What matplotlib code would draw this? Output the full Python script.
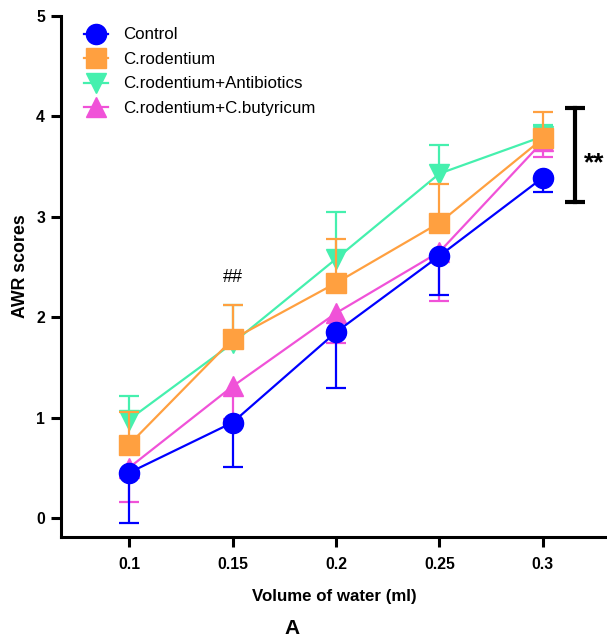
import numpy as np
import matplotlib
matplotlib.use("Agg")
import matplotlib.pyplot as plt
from matplotlib.lines import Line2D

plt.rcParams['font.family'] = ['Liberation Sans', 'DejaVu Sans']

# volumes (ml)
volumes = [0.1, 0.15, 0.2, 0.25, 0.3]
tick_labels = ['0.1', '0.15', '0.2', '0.25', '0.3']

# AWR scores, mean and the one-sided error bar shown for each group
control = [0.45, 0.95, 1.85, 2.61, 3.39]
control_err = [0.50, 0.44, 0.56, 0.39, 0.14]        # drawn downwards

rodentium = [0.73, 1.78, 2.34, 2.94, 3.78]
rodentium_err = [0.33, 0.34, 0.44, 0.39, 0.26]      # drawn upwards

antibiotics = [0.98, 1.74, 2.58, 3.43, 3.80]
antibiotics_err = [0.23, 0.38, 0.47, 0.28, 0.11]    # drawn upwards

butyricum = [0.50, 1.31, 2.04, 2.65, 3.75]
butyricum_err = [0.34, 0.32, 0.30, 0.49, 0.15]      # drawn downwards

groups = ['Control', 'C.rodentium', 'C.rodentium+Antibiotics', 'C.rodentium+C.butyricum']

# significance bracket (y range) and annotations
bracket = [3.15, 4.08]
hash_y = 2.40

fig = plt.figure(figsize=(6.07, 6.36), dpi=100)
ax = fig.add_axes([61 / 607, 1 - 537 / 636, 546 / 607, 521 / 636])

series = [
    (butyricum, butyricum_err, -1, '#F052D8', '^', groups[3]),
    (antibiotics, antibiotics_err, 1, '#45F0AE', 'v', groups[2]),
    (rodentium, rodentium_err, 1, '#FFA040', 's', groups[1]),
    (control, control_err, -1, '#0000FF', 'o', groups[0]),
]

x = np.array(volumes)
z = 2
for mean, err, side, color, marker, label in series:
    mean = np.array(mean)
    end = mean + side * np.array(err)
    # one-sided error bars like in prism
    ax.vlines(x, mean, end, color=color, lw=1.6, zorder=z)
    ax.plot(x, end, ls='none', marker='_', ms=14, mew=1.6, color=color, zorder=z)
    ax.plot(x, mean, color=color, lw=1.6, marker=marker, ms=14.5, zorder=z + 1)
    z += 2

# legend with marker + short line handles
handles = []
for mean, err, side, color, marker, label in series[::-1]:
    handles.append(Line2D([], [], color=color, lw=1.6, marker=marker, ms=14.5))
ax.legend(handles, groups, loc='upper left', bbox_to_anchor=(0.042, 0.978),
          frameon=False, fontsize=12.2, handlelength=1.4, handletextpad=0.9,
          labelspacing=0.56, borderpad=0, borderaxespad=0)

# ** bracket on the right
bx = 0.3155
ax.plot([bx, bx], bracket, color='black', lw=3, clip_on=False, zorder=20)
ax.plot([bx, bx], bracket, ls='none', marker='_', ms=15, mew=3, color='black',
        clip_on=False, zorder=20)
ax.text(bx + 0.0042, np.mean(bracket) - 0.08, '**', fontsize=19, fontweight='bold',
        ha='left', va='center', clip_on=False)
ax.text(0.15, hash_y, '##', fontsize=13, ha='center', va='center')

ax.set_xlim(0.0671, 0.331)
ax.set_ylim(-0.19, 5)
ax.set_xticks(volumes)
ax.set_xticklabels(tick_labels)
ax.set_yticks([0, 1, 2, 3, 4, 5])

for s in ['top', 'right']:
    ax.spines[s].set_visible(False)
for s in ['left', 'bottom']:
    ax.spines[s].set_linewidth(2.2)
ax.tick_params(width=2.2, length=7.5, labelsize=11.3, pad=4)
ax.tick_params(axis='x', pad=7)
for lbl in ax.get_xticklabels() + ax.get_yticklabels():
    lbl.set_fontweight('bold')

ax.set_xlabel('Volume of water (ml)', fontsize=12.2, fontweight='bold', labelpad=12)
ax.set_ylabel('AWR scores', fontsize=12.8, fontweight='bold')
ax.yaxis.set_label_coords(-0.059, 0.52)

fig.text(292 / 607, 1 - 628 / 636, 'A', fontsize=15, fontweight='bold',
         ha='center', va='center')

fig.savefig('out.png', dpi=100)
